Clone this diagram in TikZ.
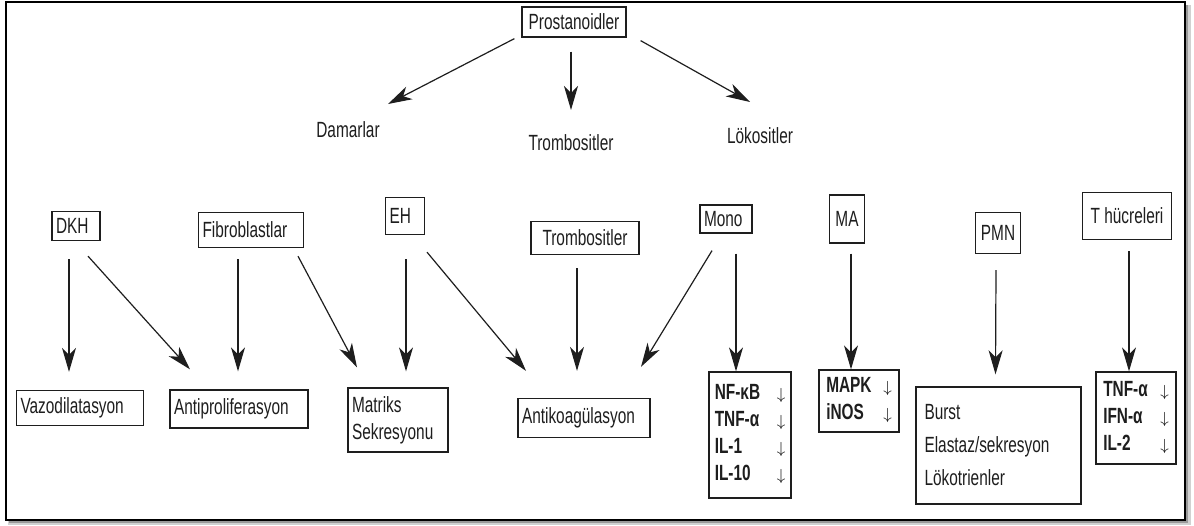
\documentclass[tikz,border=0pt]{standalone}
\usepackage{fontspec}
\setmainfont{Liberation Sans}[FakeStretch=0.7]
\usetikzlibrary{arrows.meta, positioning}
\definecolor{inkgray}{HTML}{1E1E1E}

\begin{document}
\begin{tikzpicture}[
    x=0.5pt, y=-0.5pt,
    every node/.style={font=\fontsize{11}{13.5}\selectfont, text=inkgray},
    cell/.style={draw=inkgray, line width=0.65pt, inner sep=2pt},
    leftcell/.style={cell, align=left},
    plain/.style={inner sep=0pt},
    arr/.style={draw=inkgray, line width=0.6pt, -{Stealth[length=12pt, width=7pt, inset=3.5pt]}},
  ]
  \useasboundingbox (0,0) rectangle (1194,525);
  % frame with drop shadow
  \fill[black!18] (8,5) rectangle (1191,525);
  \fill[black!40] (9,5) rectangle (1188,523);
  \draw[line width=1.2pt, fill=white] (6,2) rectangle (1185,520);

  % top level
  \node[cell, minimum width=52pt, minimum height=15pt] (prost) at (574,22) {Prostanoidler};
  \node[plain] (damar)  at (348,130) {Damarlar};
  \node[plain] (tromb1) at (571,143) {Trombositler};
  \node[plain] (loko)   at (760,136) {Lökositler};

  \draw[arr] ([shift={(-7,1)}]prost.south west) -- ([shift={(40,-26)}]damar.center);
  \draw[arr] ([shift={(-3,14)}]prost.south) -- ([shift={(0,-33)}]tromb1.center);
  \draw[arr] ([shift={(14,3)}]prost.south east) -- ([shift={(-10,-34)}]loko.center);

  % cell types
  \node[leftcell, text width=20pt, minimum height=14.5pt] (dkh) at (76,226) {DKH};
  \node[leftcell, text width=48.5pt, minimum height=17.5pt] (fibro) at (251,230) {Fibroblastlar};
  \node[leftcell, text width=15.5pt, minimum height=18.5pt] (eh) at (405,216) {EH};
  \node[cell, minimum width=54pt, minimum height=16.5pt] (tromb2) at (585,238) {Trombositler};
  \node[leftcell, text width=22pt, minimum height=14pt] (mono) at (726,219) {Mono};
  \node[cell, minimum width=17.5pt, minimum height=24pt] (ma) at (847,219) {MA};
  \node[cell, minimum width=22.5pt, minimum height=20.5pt] (pmn) at (998,233) {PMN};
  \node[cell, minimum width=44.5pt, minimum height=23.5pt] (thuc) at (1127,216) {T hücreleri};

  % effects
  \node[leftcell, text width=59.5pt, minimum height=17.5pt] (vazo) at (80,408) {Vazodilatasyon};
  \node[leftcell, text width=65pt, minimum height=19pt] (antip) at (239,409) {Antiproliferasyon};
  \node[leftcell, text width=46pt, minimum height=32pt] (matriks) at (398,420) {Matriks\\Sekresyonu};
  \node[leftcell, text width=62pt, minimum height=19.5pt] (antik) at (584,418) {Antikoagülasyon};
  \node[cell, minimum width=41pt, minimum height=63pt] (nfkb) at (750,435) {%
    \begin{tabular}{@{}p{31pt}@{}c@{}}
      \textbf{NF-κB}  & \footnotesize$\downarrow$ \\
      \textbf{TNF-α}  & \footnotesize$\downarrow$ \\
      \textbf{IL-1}   & \footnotesize$\downarrow$ \\
      \textbf{IL-10}  & \footnotesize$\downarrow$
    \end{tabular}};
  \node[cell, minimum width=40pt, minimum height=30pt] (mapk) at (859,401) {%
    \begin{tabular}{@{}p{28.5pt}@{}c@{}}
      \textbf{MAPK} & \footnotesize$\downarrow$ \\
      \textbf{iNOS} & \footnotesize$\downarrow$
    \end{tabular}};
  \node[cell, align=left, text width=74pt, minimum width=82.5pt, minimum height=58.5pt,
        font=\fontsize{11}{16.5}\selectfont] (burst) at (998.5,445.5)
    {Burst\\Elastaz/sekresyon\\Lökotrienler};
  \node[cell, minimum width=40pt, minimum height=46pt] (tcell) at (1136,418) {%
    \begin{tabular}{@{}p{28.5pt}@{}c@{}}
      \textbf{TNF-α} & \footnotesize$\downarrow$ \\
      \textbf{IFN-α} & \footnotesize$\downarrow$ \\
      \textbf{IL-2}  & \footnotesize$\downarrow$
    \end{tabular}};

  % connectors
  \draw[arr] ([shift={(-7,18)}]dkh.south) -- ([shift={(-11,-18)}]vazo.north);
  \draw[arr] ([shift={(12,15)}]dkh.south) -- ([shift={(-49,-20)}]antip.north);
  \draw[arr] ([shift={(-13,11)}]fibro.south) -- ([shift={(-1,-18)}]antip.north);
  \draw[arr] ([shift={(47,8)}]fibro.south) -- ([shift={(-41,-20)}]matriks.north);
  \draw[arr] ([shift={(1,24)}]eh.south) -- ([shift={(8,-16)}]matriks.north);
  \draw[arr] ([shift={(22,17)}]eh.south) -- ([shift={(-58,-27)}]antik.north);
  \draw[arr] ([shift={(-8,13)}]tromb2.south) -- ([shift={(-7,-27)}]antik.north);
  \draw[arr] ([shift={(-14,17)}]mono.south) -- ([shift={(57,-31)}]antik.north);
  \draw[arr] ([shift={(10,20)}]mono.south) -- ([shift={(-14,0)}]nfkb.north);
  \draw[arr] ([shift={(4,10)}]ma.south) -- ([shift={(-8,0)}]mapk.north);
  \draw[arr] ([shift={(-2,16)}]pmn.south) -- ([shift={(-3,-12)}]burst.north);
  \draw[arr] ([shift={(2,11)}]thuc.south) -- ([shift={(-7,0)}]tcell.north);
\end{tikzpicture}
\end{document}
